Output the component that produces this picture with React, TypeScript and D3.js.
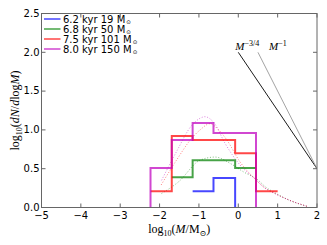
import * as d3 from "d3";

// histogram steps (log10 M, log10 dN/dlogM); -1 means dropped below the axis
const blueX = [-1.16, -0.63, -0.08];
const blueY = [0.21, 0.38, -1];
const greenX = [-1.69, -1.16, -0.63, -0.08, 0.45];
const greenY = [0.39, 0.61, 0.61, 0.51, 0.51];
const redX = [-2.23, -1.69, -1.16, -0.63, -0.08, 0.45, 1.0];
const redY = [0.21, 0.92, 0.87, 0.87, 0.7, 0.21, 0.21];
const magentaX = [-2.5, -2.23, -1.69, -1.16, -0.63, -0.08, 0.45];
const magentaY = [-1, 0.51, 0.87, 1.09, 0.96, 0.96, -1];

// dotted fit curves
const magFitX = [-1.95, -1.57, -1.18, -0.97, -0.85, -0.6, -0.34, 0.04, 0.42, 0.68, 0.93, 1.27, 1.78];
const magFitY = [0.35, 0.72, 1.06, 1.15, 1.17, 1.08, 0.83, 0.55, 0.37, 0.25, 0.18, 0.1, 0.01];
const redFitX = [-1.96, -1.57, -1.17, -0.97, -0.72, -0.5, -0.29, 0.04, 0.42, 0.68, 0.93, 1.27, 1.78];
const redFitY = [0.29, 0.61, 0.9, 1.0, 1.08, 1.0, 0.87, 0.59, 0.37, 0.25, 0.18, 0.1, 0.01];
const greenFitX = [-1.95, -1.52, -0.97, -0.59, -0.21, 0.13, 0.51, 0.68, 0.93, 1.27, 1.78];
const greenFitY = [0.18, 0.33, 0.61, 0.65, 0.57, 0.46, 0.35, 0.27, 0.19, 0.1, 0.01];

// power-law guides
const slopeX = [0, 2];
const slopeY = [2.0, 0.5];
const slope1X = [0.5, 2];
const slope1Y = [2.0, 0.5];

const legendLabels = ["6.2 kyr 19 M", "6.8 kyr 50 M", "7.5 kyr 101 M", "8.0 kyr 150 M"];
const colors = ["#0000ff", "#008000", "#ff0000", "#bf00bf"];
const xTicks = [-5, -4, -3, -2, -1, 0, 1, 2];
const yTicks = [0, 0.5, 1.0, 1.5, 2.0, 2.5];

const W = 327;
const H = 245;
const m = { left: 41.5, right: 10, top: 13.5, bottom: 37.5 };

export default function App() {
  const x = d3.scaleLinear().domain([-5, 2]).range([m.left, W - m.right]);
  const y = d3.scaleLinear().domain([0, 2.5]).range([H - m.bottom, m.top]);

  const step = d3.line<number>().curve(d3.curveStepAfter);
  const smooth = d3.line<number>().curve(d3.curveMonotoneX);
  const straight = d3.line<number>();

  const path = (xs: number[], ys: number[], gen: d3.Line<number>) =>
    gen.x((_, i) => x(xs[i])).y((_, i) => y(ys[i]))(xs.map((_, i) => i)) || "";

  const steps = [
    [blueX, blueY],
    [greenX, greenY],
    [redX, redY],
    [magentaX, magentaY],
  ];
  const fits: [number[], number[], string][] = [
    [greenFitX, greenFitY, colors[1]],
    [redFitX, redFitY, colors[2]],
    [magFitX, magFitY, colors[3]],
  ];

  const sans = "DejaVu Sans, sans-serif";
  const serif = "Liberation Serif, DejaVu Serif, serif";
  const x0 = m.left;
  const x1 = W - m.right;
  const y0 = H - m.bottom;
  const y1 = m.top;

  return (
    <svg width={W} height={H} style={{ position: "absolute", left: 0, top: 0, background: "#fff" }}>
      <defs>
        <clipPath id="plot">
          <rect x={x0} y={y1} width={x1 - x0} height={y0 - y1} />
        </clipPath>
      </defs>

      <g clipPath="url(#plot)">
        {fits.map(([xs, ys, c], i) => (
          <path key={"f" + i} d={path(xs, ys, smooth)} fill="none" stroke={c} strokeWidth={1}
            strokeDasharray="1,1.8" opacity={0.5} />
        ))}
        {steps.map(([xs, ys], i) => (
          <path key={"s" + i} d={path(xs, ys, step)} fill="none" stroke={colors[i]} strokeWidth={2}
            opacity={0.72} />
        ))}
        <path d={path(slopeX, slopeY, straight)} fill="none" stroke="#000" strokeWidth={0.9} />
        <path d={path(slope1X, slope1Y, straight)} fill="none" stroke="#999" strokeWidth={0.9} />
      </g>

      {/* frame and ticks */}
      <rect x={x0} y={y1} width={x1 - x0} height={y0 - y1} fill="none" stroke="#666" strokeWidth={1} />
      {xTicks.map((t) => (
        <g key={"xt" + t}>
          <line x1={x(t)} x2={x(t)} y1={y0} y2={y0 - 4} stroke="#666" />
          <line x1={x(t)} x2={x(t)} y1={y1} y2={y1 + 4} stroke="#666" />
          <text x={x(t)} y={y0 + 11.5} textAnchor="middle" fontFamily={sans} fontSize={10} fill="#000">
            {t < 0 ? "\u2212" + Math.abs(t) : t}
          </text>
        </g>
      ))}
      {yTicks.map((t) => (
        <g key={"yt" + t}>
          <line x1={x0} x2={x0 + 4} y1={y(t)} y2={y(t)} stroke="#666" />
          <line x1={x1} x2={x1 - 4} y1={y(t)} y2={y(t)} stroke="#666" />
          <text x={x0 - 2} y={y(t) + 3.2} textAnchor="end" fontFamily={sans} fontSize={10} fill="#000">
            {t.toFixed(1)}
          </text>
        </g>
      ))}

      {/* power-law labels */}
      <text x={x(slopeX[0]) - 3} y={y(slopeY[0]) - 2} fontFamily={serif} fontSize={11} fill="#000">
        <tspan fontStyle="italic">M</tspan>
        <tspan fontSize={8} dy={-4.5}>{"\u22123/4"}</tspan>
      </text>
      <text x={x(slope1X[0]) + 11} y={y(slope1Y[0]) - 2} fontFamily={serif} fontSize={11} fill="#000">
        <tspan fontStyle="italic">M</tspan>
        <tspan fontSize={8} dy={-4.5}>{"\u22121"}</tspan>
      </text>

      {/* legend */}
      {legendLabels.map((l, i) => (
        <g key={"lg" + i}>
          <line x1={44} x2={60.5} y1={19 + i * 10} y2={19 + i * 10} stroke={colors[i]} strokeWidth={1.5} opacity={0.72} />
          <text x={63} y={22.5 + i * 10} fontFamily={sans} fontSize={10} fill="#000">
            {l}
            <tspan fontSize={5.5} dy={1.5} dx={1}>{"\u2299"}</tspan>
          </text>
        </g>
      ))}

      {/* axis labels */}
      <text x={(x0 + x1) / 2} y={233} textAnchor="middle" fontFamily={serif} fontSize={12} fill="#000">
        log<tspan fontSize={8} dy={3}>10</tspan>
        <tspan dy={-3}>(</tspan>
        <tspan fontStyle="italic">M</tspan>/M
        <tspan fontSize={8} dy={3}>{"\u2299"}</tspan>
        <tspan dy={-3}>)</tspan>
      </text>
      <text transform={`translate(19,${(y0 + y1) / 2}) rotate(-90)`} textAnchor="middle" fontFamily={serif}
        fontSize={12} fill="#000">
        log<tspan fontSize={8} dy={3}>10</tspan>
        <tspan dy={-3}>(</tspan>
        <tspan fontStyle="italic">dN</tspan>/
        <tspan fontStyle="italic">d</tspan>log
        <tspan fontStyle="italic">M</tspan>)
      </text>
    </svg>
  );
}
